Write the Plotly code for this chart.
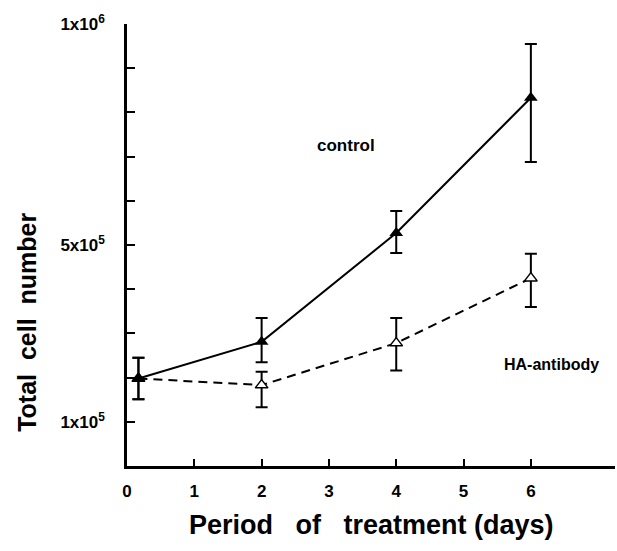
import plotly.graph_objects as go

days = [0.17, 2, 4, 6]
control = [1.98e5, 2.81e5, 5.27e5, 8.33e5]
control_err_plus = [0.47e5, 0.54e5, 0.5e5, 1.22e5]
control_err_minus = [0.47e5, 0.46e5, 0.45e5, 1.45e5]
antibody = [1.98e5, 1.83e5, 2.78e5, 4.25e5]
antibody_err_plus = [0.47e5, 0.3e5, 0.57e5, 0.55e5]
antibody_err_minus = [0.47e5, 0.5e5, 0.62e5, 0.65e5]

y_tickvals = [i * 1e5 for i in range(1, 11)]
y_ticktext = ["1x10<sup>5</sup>", "", "", "", "5x10<sup>5</sup>", "", "", "", "", "1x10<sup>6</sup>"]
x_tickvals = [0, 1, 2, 3, 4, 5, 6]

FONT = "Liberation Sans"

fig = go.Figure()
fig.add_trace(go.Scatter(
    x=days, y=antibody, mode="lines+markers",
    line=dict(color="black", width=2, dash="9px,6px"),
    marker=dict(symbol="triangle-up", size=11, color="white",
                line=dict(color="black", width=1.5)),
    error_y=dict(type="data", symmetric=False, array=antibody_err_plus,
                 arrayminus=antibody_err_minus, color="black", thickness=2, width=6),
    showlegend=False,
))
fig.add_trace(go.Scatter(
    x=days, y=control, mode="lines+markers",
    line=dict(color="black", width=2),
    marker=dict(symbol="triangle-up", size=12, color="black"),
    error_y=dict(type="data", symmetric=False, array=control_err_plus,
                 arrayminus=control_err_minus, color="black", thickness=2, width=6),
    showlegend=False,
))

fig.add_annotation(x=3.25, y=7.26e5, text="control", showarrow=False,
                   font=dict(family=FONT, size=17, color="black", weight="bold"))
fig.add_annotation(x=6.31, y=2.29e5, text="HA-antibody", showarrow=False,
                   xanchor="center",
                   font=dict(family=FONT, size=16, color="black", weight="bold"))

fig.add_annotation(xref="paper", yref="paper", x=-0.205, y=0.326, yanchor="middle",
                   xanchor="center",
                   text="Total\u00a0 cell\u00a0 number", textangle=-90, showarrow=False,
                   font=dict(family=FONT, size=25, color="black", weight="bold"))
fig.add_annotation(xref="paper", yref="paper", x=0.5, y=-0.095, yanchor="top",
                   text="Period\u00a0\u00a0 of\u00a0\u00a0 treatment\u00a0(days)",
                   showarrow=False,
                   font=dict(family=FONT, size=27, color="black", weight="bold"))

fig.update_layout(
    width=617, height=551,
    margin=dict(l=127, r=2, t=24, b=85),
    paper_bgcolor="white", plot_bgcolor="white",
    font=dict(family=FONT, color="black"),
)
fig.update_xaxes(range=[0, 7.25], tickvals=x_tickvals, ticks="inside", ticklen=7,
                 tickwidth=2, tickcolor="black", showline=True, linecolor="black",
                 linewidth=2.5, showgrid=False, zeroline=False, ticklabelstandoff=8,
                 tickfont=dict(family=FONT, size=17, color="black", weight="bold"))
fig.update_yaxes(range=[0, 1e6], tickvals=y_tickvals, ticktext=y_ticktext,
                 ticks="inside", ticklen=8, tickwidth=2, tickcolor="black",
                 showline=True, linecolor="black", linewidth=2.5, showgrid=False,
                 zeroline=False, ticklabelstandoff=16,
                 tickfont=dict(family=FONT, size=17, color="black", weight="bold"))

fig.write_html("out.html", config={"displayModeBar": False},
               post_script="document.body.style.margin='0px';")
